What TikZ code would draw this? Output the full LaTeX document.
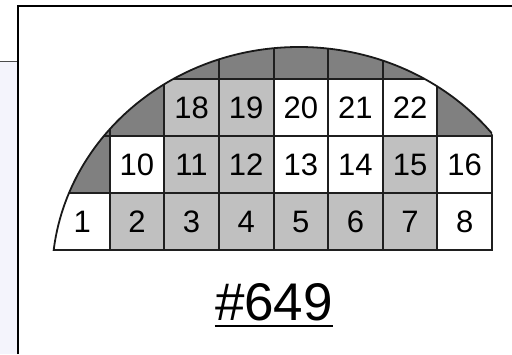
\documentclass[tikz,border=0pt]{standalone}
\usepackage{fontspec}
\setmainfont{Liberation Sans}
\definecolor{darkg}{RGB}{128,128,128}
\definecolor{lightg}{RGB}{192,192,192}
\definecolor{lav}{RGB}{244,244,252}
\begin{document}
\begin{tikzpicture}[x=1pt,y=-1pt,
  num/.style={font=\fontsize{31}{31}\selectfont, inner sep=0pt},
  gridline/.style={line width=2pt, draw=black!88},
  outline/.style={line width=1.8pt, draw=black!90},
  frameline/.style={line width=2pt, draw=black}]
\useasboundingbox (0,0) rectangle (512,354);
% page frame
\fill[lav] (0,62) rectangle (16.5,354);
\draw[line width=1pt, draw=black!70] (0,61.5) -- (17,61.5);
\coordinate (fb) at (17.5,354);
\coordinate (fr) at (512,6);
\draw[frameline] (fb) |- (fr);
% wafer map
\begin{scope}
  \clip (0,0) rectangle (493.5,251.5);
  \clip (299,277) ellipse [x radius=247, y radius=230];
  \fill[darkg] (0,0) rectangle (492,250);
  % cells: col/row/colour  (row 0 = bottom)
  \foreach \c/\r/\col in {0/0/white,1/0/lightg,2/0/lightg,3/0/lightg,4/0/lightg,5/0/lightg,6/0/lightg,7/0/white,
                          1/1/white,2/1/lightg,3/1/lightg,4/1/white,5/1/white,6/1/lightg,7/1/white,
                          2/2/lightg,3/2/lightg,4/2/white,5/2/white,6/2/white}
    \fill[\col] ({55+54.625*\c},{250-57*\r}) rectangle ({55+54.625*(\c+1)},{250-57*(\r+1)});
  \foreach \i in {1,...,8}
    \draw[gridline] ({55+54.625*\i},0) -- ({55+54.625*\i},251);
  \foreach \y in {79,136,193,250}
    \draw[gridline] (0,\y) -- (493,\y);
\end{scope}
\begin{scope}
  \clip (0,0) rectangle (492,250);
  \draw[outline] (299,277) ellipse [x radius=247, y radius=230];
\end{scope}
% numbers
\foreach \t/\c/\r in {1/0/0,2/1/0,3/2/0,4/3/0,5/4/0,6/5/0,7/6/0,8/7/0,
                      10/1/1,11/2/1,12/3/1,13/4/1,14/5/1,15/6/1,16/7/1,
                      18/2/2,19/3/2,20/4/2,21/5/2,22/6/2}
  \node[num] (n\t) at ({55+54.625*(\c+0.5)},{221.5-57*\r}) {\t};
% label
\node[font=\fontsize{53}{53}\selectfont, inner sep=0pt, anchor=base] (lbl) at (274,320) {\#649};
\draw[line width=2pt] ([yshift=-6pt]lbl.base west) -- ([yshift=-6pt]lbl.base east);
\end{tikzpicture}
\end{document}
